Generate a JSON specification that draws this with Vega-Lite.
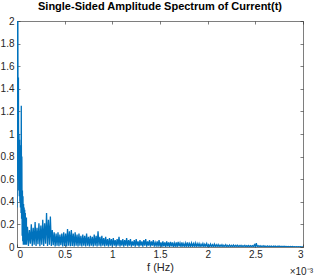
{
"$schema":"https://vega.github.io/schema/vega-lite/v6.json",
"autosize":"none",
"width":286,"height":226,
"padding":{"left":17,"top":21,"right":16,"bottom":30},
"background":"white",
"config":{"view":{"stroke":null},"font":"Liberation Sans"},
"title":{"text":"Single-Sided Amplitude Spectrum of Current(t)","fontSize":11,"fontWeight":"bold","color":"#000000","offset":4,"font":"Liberation Sans"},
"data":{"values":[
{"f":0,"a":0.35},{"f":0.003,"a":2.0},{"f":0.006,"a":0.9},{"f":0.009,"a":2.0},{"f":0.012,"a":0.6},{"f":0.015,"a":1.5},{"f":0.018,"a":0.5},{"f":0.021,"a":1.0},{"f":0.024,"a":0.45},{"f":0.027,"a":0.95},{"f":0.03,"a":0.4},{"f":0.033,"a":0.9},{"f":0.036,"a":0.35},{"f":0.039,"a":0.85},{"f":0.042,"a":0.3},{"f":0.045,"a":1.25},{"f":0.048,"a":0.25},{"f":0.051,"a":0.8},{"f":0.054,"a":0.1},{"f":0.057,"a":0.5},{"f":0.06,"a":0.05},{"f":0.063,"a":0.45},{"f":0.066,"a":0.02},{"f":0.069,"a":0.38},{"f":0.072,"a":0.03},{"f":0.075,"a":0.35},{"f":0.078,"a":0.02},{"f":0.081,"a":0.33},{"f":0.084,"a":0.04},{"f":0.087,"a":0.3},{"f":0.09,"a":0.02},{"f":0.093,"a":0.22},{"f":0.096,"a":0.03},{"f":0.099,"a":0.26},
{"f":0.10,"a":0.02},{"f":0.11,"a":0.18},{"f":0.12,"a":0.01},{"f":0.13,"a":0.15},{"f":0.14,"a":0.03},{"f":0.15,"a":0.20},{"f":0.16,"a":0.008},{"f":0.17,"a":0.17},{"f":0.18,"a":0.02},{"f":0.19,"a":0.22},
{"f":0.20,"a":0.01},{"f":0.21,"a":0.17},{"f":0.22,"a":0.025},{"f":0.23,"a":0.21},{"f":0.24,"a":0.006},{"f":0.25,"a":0.19},{"f":0.26,"a":0.02},{"f":0.27,"a":0.24},{"f":0.28,"a":0.01},{"f":0.29,"a":0.21},
{"f":0.30,"a":0.03},{"f":0.31,"a":0.30},{"f":0.32,"a":0.008},{"f":0.33,"a":0.24},{"f":0.34,"a":0.02},{"f":0.35,"a":0.27},{"f":0.36,"a":0.01},{"f":0.37,"a":0.15},{"f":0.38,"a":0.015},{"f":0.39,"a":0.13},
{"f":0.40,"a":0.005},{"f":0.41,"a":0.12},{"f":0.42,"a":0.012},{"f":0.43,"a":0.13},{"f":0.44,"a":0.006},{"f":0.45,"a":0.11},{"f":0.46,"a":0.015},{"f":0.47,"a":0.12},{"f":0.48,"a":0.005},{"f":0.49,"a":0.13},
{"f":0.50,"a":0.01},{"f":0.51,"a":0.12},{"f":0.52,"a":0.004},{"f":0.53,"a":0.16},{"f":0.54,"a":0.012},{"f":0.55,"a":0.14},{"f":0.56,"a":0.006},{"f":0.57,"a":0.15},{"f":0.58,"a":0.01},{"f":0.59,"a":0.12},
{"f":0.60,"a":0.004},{"f":0.61,"a":0.13},{"f":0.62,"a":0.012},{"f":0.63,"a":0.11},{"f":0.64,"a":0.004},{"f":0.65,"a":0.12},{"f":0.66,"a":0.012},{"f":0.67,"a":0.10},{"f":0.68,"a":0.004},{"f":0.69,"a":0.11},
{"f":0.70,"a":0.012},{"f":0.71,"a":0.10},{"f":0.72,"a":0.004},{"f":0.73,"a":0.12},{"f":0.74,"a":0.012},{"f":0.75,"a":0.09},{"f":0.76,"a":0.004},{"f":0.77,"a":0.10},{"f":0.78,"a":0.012},{"f":0.79,"a":0.09},
{"f":0.80,"a":0.004},{"f":0.81,"a":0.11},{"f":0.82,"a":0.012},{"f":0.83,"a":0.10},{"f":0.84,"a":0.004},{"f":0.85,"a":0.14},{"f":0.86,"a":0.012},{"f":0.87,"a":0.09},{"f":0.88,"a":0.004},{"f":0.89,"a":0.10},
{"f":0.90,"a":0.012},{"f":0.91,"a":0.08},{"f":0.92,"a":0.004},{"f":0.93,"a":0.09},{"f":0.94,"a":0.012},{"f":0.95,"a":0.07},{"f":0.96,"a":0.004},{"f":0.97,"a":0.08},{"f":0.98,"a":0.012},{"f":0.99,"a":0.07},
{"f":1.00,"a":0.004},{"f":1.01,"a":0.08},{"f":1.02,"a":0.012},{"f":1.03,"a":0.06},{"f":1.04,"a":0.004},{"f":1.05,"a":0.07},{"f":1.06,"a":0.012},{"f":1.07,"a":0.09},{"f":1.08,"a":0.004},{"f":1.09,"a":0.06},
{"f":1.10,"a":0.012},{"f":1.11,"a":0.07},{"f":1.12,"a":0.004},{"f":1.13,"a":0.06},{"f":1.14,"a":0.012},{"f":1.15,"a":0.08},{"f":1.16,"a":0.004},{"f":1.17,"a":0.06},{"f":1.18,"a":0.012},{"f":1.19,"a":0.07},
{"f":1.20,"a":0.004},{"f":1.21,"a":0.05},{"f":1.22,"a":0.012},{"f":1.23,"a":0.06},{"f":1.24,"a":0.004},{"f":1.25,"a":0.07},{"f":1.26,"a":0.012},{"f":1.27,"a":0.05},{"f":1.28,"a":0.004},{"f":1.29,"a":0.06},
{"f":1.30,"a":0.012},{"f":1.31,"a":0.05},{"f":1.32,"a":0.004},{"f":1.33,"a":0.06},{"f":1.34,"a":0.012},{"f":1.35,"a":0.07},{"f":1.36,"a":0.004},{"f":1.37,"a":0.05},{"f":1.38,"a":0.012},{"f":1.39,"a":0.06},
{"f":1.40,"a":0.004},{"f":1.41,"a":0.05},{"f":1.42,"a":0.012},{"f":1.43,"a":0.06},{"f":1.44,"a":0.004},{"f":1.45,"a":0.04},{"f":1.46,"a":0.012},{"f":1.47,"a":0.05},{"f":1.48,"a":0.004},{"f":1.49,"a":0.06},
{"f":1.50,"a":0.006},{"f":1.51,"a":0.04},{"f":1.52,"a":0.002},{"f":1.53,"a":0.05},{"f":1.54,"a":0.006},{"f":1.55,"a":0.04},{"f":1.56,"a":0.002},{"f":1.57,"a":0.05},{"f":1.58,"a":0.006},{"f":1.59,"a":0.04},
{"f":1.60,"a":0.002},{"f":1.61,"a":0.045},{"f":1.62,"a":0.006},{"f":1.63,"a":0.04},{"f":1.64,"a":0.002},{"f":1.65,"a":0.035},{"f":1.66,"a":0.006},{"f":1.67,"a":0.04},{"f":1.68,"a":0.002},{"f":1.69,"a":0.045},
{"f":1.70,"a":0.006},{"f":1.71,"a":0.035},{"f":1.72,"a":0.002},{"f":1.73,"a":0.04},{"f":1.74,"a":0.006},{"f":1.75,"a":0.03},{"f":1.76,"a":0.002},{"f":1.77,"a":0.035},{"f":1.78,"a":0.006},{"f":1.79,"a":0.04},
{"f":1.80,"a":0.002},{"f":1.81,"a":0.03},{"f":1.82,"a":0.006},{"f":1.83,"a":0.035},{"f":1.84,"a":0.002},{"f":1.85,"a":0.03},{"f":1.86,"a":0.006},{"f":1.87,"a":0.035},{"f":1.88,"a":0.002},{"f":1.89,"a":0.03},
{"f":1.90,"a":0.006},{"f":1.91,"a":0.03},{"f":1.92,"a":0.002},{"f":1.93,"a":0.025},{"f":1.94,"a":0.006},{"f":1.95,"a":0.03},{"f":1.96,"a":0.002},{"f":1.97,"a":0.025},{"f":1.98,"a":0.006},{"f":1.99,"a":0.03},
{"f":2.00,"a":0.002},{"f":2.01,"a":0.02},{"f":2.02,"a":0.004},{"f":2.03,"a":0.025},{"f":2.04,"a":0.002},{"f":2.05,"a":0.02},{"f":2.06,"a":0.004},{"f":2.07,"a":0.025},{"f":2.08,"a":0.002},{"f":2.09,"a":0.02},
{"f":2.10,"a":0.004},{"f":2.11,"a":0.022},{"f":2.12,"a":0.002},{"f":2.13,"a":0.018},{"f":2.14,"a":0.004},{"f":2.15,"a":0.02},{"f":2.16,"a":0.002},{"f":2.17,"a":0.016},{"f":2.18,"a":0.004},{"f":2.19,"a":0.02},
{"f":2.20,"a":0.002},{"f":2.21,"a":0.015},{"f":2.22,"a":0.004},{"f":2.23,"a":0.018},{"f":2.24,"a":0.002},{"f":2.25,"a":0.015},{"f":2.26,"a":0.004},{"f":2.27,"a":0.017},{"f":2.28,"a":0.002},{"f":2.29,"a":0.014},
{"f":2.30,"a":0.004},{"f":2.31,"a":0.016},{"f":2.32,"a":0.002},{"f":2.33,"a":0.013},{"f":2.34,"a":0.004},{"f":2.35,"a":0.015},{"f":2.36,"a":0.002},{"f":2.37,"a":0.012},{"f":2.38,"a":0.004},{"f":2.39,"a":0.014},
{"f":2.40,"a":0.002},{"f":2.41,"a":0.012},{"f":2.42,"a":0.004},{"f":2.43,"a":0.013},{"f":2.44,"a":0.002},{"f":2.45,"a":0.011},{"f":2.46,"a":0.004},{"f":2.47,"a":0.012},{"f":2.48,"a":0.002},{"f":2.49,"a":0.02},
{"f":2.50,"a":0.003},{"f":2.51,"a":0.035},{"f":2.52,"a":0.001},{"f":2.53,"a":0.012},{"f":2.54,"a":0.003},{"f":2.55,"a":0.011},{"f":2.56,"a":0.001},{"f":2.57,"a":0.01},{"f":2.58,"a":0.003},{"f":2.59,"a":0.011},
{"f":2.60,"a":0.001},{"f":2.61,"a":0.009},{"f":2.62,"a":0.003},{"f":2.63,"a":0.01},{"f":2.64,"a":0.001},{"f":2.65,"a":0.009},{"f":2.66,"a":0.003},{"f":2.67,"a":0.008},{"f":2.68,"a":0.001},{"f":2.69,"a":0.009},
{"f":2.70,"a":0.003},{"f":2.71,"a":0.008},{"f":2.72,"a":0.001},{"f":2.73,"a":0.007},{"f":2.74,"a":0.003},{"f":2.75,"a":0.008},{"f":2.76,"a":0.001},{"f":2.77,"a":0.007},{"f":2.78,"a":0.002},{"f":2.79,"a":0.006},
{"f":2.80,"a":0.001},{"f":2.81,"a":0.006},{"f":2.82,"a":0.002},{"f":2.83,"a":0.005},{"f":2.84,"a":0.001},{"f":2.85,"a":0.005},{"f":2.86,"a":0.001},{"f":2.87,"a":0.004},{"f":2.88,"a":0.001},{"f":2.89,"a":0.004},
{"f":2.90,"a":0.001},{"f":2.91,"a":0.003},{"f":2.92,"a":0.001},{"f":2.93,"a":0.003},{"f":2.94,"a":0.0005},{"f":2.95,"a":0.002},{"f":2.96,"a":0.0005},{"f":2.97,"a":0.002},{"f":2.98,"a":0.0005},{"f":2.99,"a":0.001},{"f":3.00,"a":0}
]},
"layer":[
{"mark":{"type":"line","color":"#0072BD","strokeWidth":1.3,"clip":true,"interpolate":"linear"},
 "encoding":{
  "x":{"field":"f","type":"quantitative","scale":{"domain":[0,3],"nice":false,"zero":false},
   "axis":{"title":"f (Hz)","values":[0,0.5,1,1.5,2,2.5,3],"format":"~g","grid":false,"domainColor":"#262626","domainWidth":0.6,"tickColor":"#262626","tickWidth":0.6,"tickSize":-3,"labelPadding":5,"labelFontSize":10,"labelColor":"#262626","titleFontSize":11,"titleFontWeight":"normal","titleColor":"#262626","titlePadding":2,"labelFont":"Liberation Sans","titleFont":"Liberation Sans"}},
  "y":{"field":"a","type":"quantitative","scale":{"domain":[0,2],"nice":false},
   "axis":{"title":null,"values":[0,0.2,0.4,0.6,0.8,1,1.2,1.4,1.6,1.8,2],"format":"~g","grid":false,"domainColor":"#262626","domainWidth":0.6,"tickColor":"#262626","tickWidth":0.6,"tickSize":-3,"labelPadding":6,"labelFontSize":10,"labelColor":"#262626","labelFont":"Liberation Sans"}}
 }},
{"mark":{"type":"point","opacity":0},
 "encoding":{
  "x":{"field":"f","type":"quantitative","axis":{"orient":"top","title":null,"labels":false,"values":[0,0.5,1,1.5,2,2.5,3],"grid":false,"domainColor":"#262626","domainWidth":0.6,"tickColor":"#262626","tickWidth":0.6,"tickSize":-3}},
  "y":{"field":"a","type":"quantitative","axis":{"orient":"right","title":null,"labels":false,"values":[0,0.2,0.4,0.6,0.8,1,1.2,1.4,1.6,1.8,2],"grid":false,"domainColor":"#262626","domainWidth":0.6,"tickColor":"#262626","tickWidth":0.6,"tickSize":-3}}
 }},
{"data":{"values":[{"f":3,"a":0,"t":"×10⁻³"}]},
 "mark":{"type":"text","align":"right","baseline":"top","dy":20,"dx":10,"fontSize":10,"color":"#262626","font":"Liberation Sans"},
 "encoding":{"x":{"field":"f","type":"quantitative","axis":null},"y":{"field":"a","type":"quantitative","axis":null},"text":{"field":"t"}}}
],
"resolve":{"axis":{"x":"independent","y":"independent"}}
}
